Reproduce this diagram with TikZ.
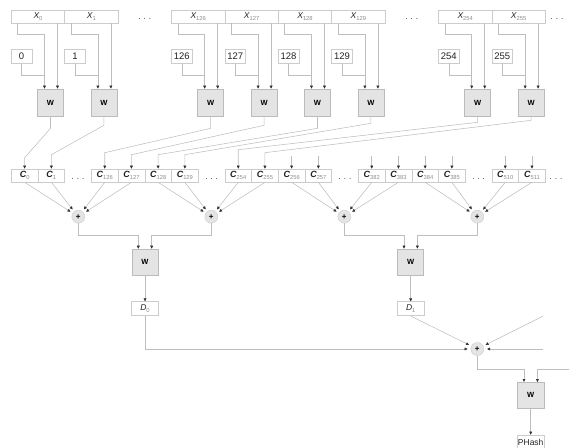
\documentclass[tikz,border=0pt]{standalone}
\usepackage{fontspec}
\setmainfont{Liberation Sans}
\usetikzlibrary{arrows.meta}
\definecolor{lncol}{HTML}{BEBEBE}
\definecolor{bdcol}{HTML}{CCCCCC}
\definecolor{wfill}{HTML}{E4E4E4}
\definecolor{wdraw}{HTML}{BBBBBB}
\definecolor{subcol}{HTML}{8C8C8C}
\definecolor{tipcol}{HTML}{303030}
\definecolor{txtcol}{HTML}{222222}
\newcommand\sublab[3]{{\fontsize{#3}{#3}\selectfont #1}\raisebox{-0.4ex}{\fontsize{5.8}{6}\selectfont\color{subcol}#2}}
\begin{document}
\begin{tikzpicture}[x=1pt,y=-1pt,
  ln/.style={draw=lncol,line width=0.55pt},
  tip/.style={-{Triangle[length=3pt,width=2.8pt,color=tipcol]}},
  xbox/.style={draw=bdcol,line width=0.6pt,minimum width=53.4pt,minimum height=13pt,inner sep=0pt,text=txtcol},
  cbox/.style={draw=bdcol,line width=0.6pt,minimum width=26.7pt,minimum height=13pt,inner sep=0pt,text=txtcol},
  kbox/.style={draw=bdcol,line width=0.6pt,minimum width=20.5pt,minimum height=14pt,inner sep=0pt,text=txtcol,font=\fontsize{9.5}{10}\selectfont},
  wbox/.style={draw=wdraw,fill=wfill,line width=0.6pt,minimum width=26pt,minimum height=27pt,inner sep=0pt,font=\fontsize{7.5}{8}\selectfont\bfseries},
  dbox/.style={draw=bdcol,line width=0.6pt,minimum width=26.7pt,minimum height=14pt,inner sep=0pt,text=txtcol},
  plus/.style={circle,fill=wfill,draw=bdcol,line width=0.4pt,minimum size=13pt,inner sep=0pt,font=\fontsize{8}{8}\selectfont\bfseries},
  dots/.style={inner sep=0pt,anchor=base,text=txtcol,font=\fontsize{8}{8}\selectfont}
]
\useasboundingbox (0,0) rectangle (569,447);

% C row
\foreach \k/\q in {0/0,1/1,126/3,127/4,128/5,129/6,254/8,255/9,256/10,257/11,382/13,383/14,384/15,385/16,510/18,511/19}{
  \node[cbox] (C\k) at (11.3+26.7*\q+13.35,175.5) {\sublab{\bfseries\itshape C}{\k}{9}};
}
% top rows
\foreach \k/\p/\a/\b in {0/0/128/158, 1/1/125/155, 126/3/128/153, 127/4/125/155, 128/5/128/155, 129/6/123/155, 254/8/122/150, 255/9/120/153}{
  \pgfmathsetmacro\xl{11.3+53.4*\p}
  \node[xbox] (X\k) at (\xl+26.7,16.5) {\sublab{\itshape X}{\k}{8.5}};
  \node[kbox] (K\k) at (\xl+10.3,56.3) {\k};
  \node[wbox] (W\k) at (\xl+39.2,102.5) {W};
  \coordinate (wl\k) at ([xshift=-6pt]W\k.north);
  \coordinate (wr\k) at ([xshift=7pt]W\k.north);
  \draw[ln,tip] ([xshift=6.7pt]X\k.south west) |- ([yshift=54pt]wl\k) -- (wl\k);
  \draw[ln] (K\k.south) |- ([yshift=13pt]wl\k);
  \draw[ln,tip] (wr\k |- X\k.south) -- (wr\k);
  \draw[ln,tip] (W\k.south) -- ++(0,\a-116) -- ([yshift=169-\b]C\k.north) -- (C\k.north);
}
% stubs
\foreach \k in {256,257,382,383,384,385,510,511}{
  \coordinate (s\k) at ([yshift=13pt]C\k.north);
  \draw[ln,tip] (s\k) -- (C\k.north);
}
% dots
\node[dots] (dx1) at (144.8,19) {. . .};
\node[dots] (dx2) at (411.8,19) {. . .};
\node[dots] (dx3) at (557,19) {. . .};
\node[dots] (dc1) at (78,179) {. . .};
\node[dots] (dc2) at (211.6,179) {. . .};
\node[dots] (dc3) at (345,179) {. . .};
\node[dots] (dc4) at (478.6,179) {. . .};
\node[dots] (dc5) at (556,179) {. . .};

% plus nodes
\node[plus] (P1) at (78.3,216.7) {+};
\node[plus] (P2) at (211.3,216.7) {+};
\node[plus] (P3) at (344.3,216.7) {+};
\node[plus] (P4) at (477.3,216.7) {+};
\foreach \c/\g in {0/P1,1/P1,126/P1,127/P1,128/P2,129/P2,254/P2,255/P2,256/P3,257/P3,382/P3,383/P3,384/P4,385/P4,510/P4,511/P4}{
  \draw[ln,tip,shorten >=2.5pt] (C\c.south) -- (\g);
}

% second level W
\node[wbox,minimum height=26pt] (WA) at (145,262) {W};
\node[wbox,minimum height=26pt] (WB) at (410.7,262) {W};
\coordinate (al) at ([xshift=-6.7pt]WA.north);
\coordinate (ar) at ([xshift=6.7pt]WA.north);
\coordinate (bl) at ([xshift=-6.7pt]WB.north);
\coordinate (br) at ([xshift=6.7pt]WB.north);
\draw[ln,tip] (P1.south) |- ([yshift=13pt]al) -- (al);
\draw[ln,tip] (P2.south) |- ([yshift=13pt]ar) -- (ar);
\draw[ln,tip] (P3.south) |- ([yshift=13pt]bl) -- (bl);
\draw[ln,tip] (P4.south) |- ([yshift=13pt]br) -- (br);

% D nodes
\node[dbox] (D0) at (145,308.7) {\sublab{\itshape D}{0}{8.5}};
\node[dbox] (D1) at (410.7,308.7) {\sublab{\itshape D}{1}{8.5}};
\draw[ln,tip] (WA.south) -- (D0.north);
\draw[ln,tip] (WB.south) -- (D1.north);

% final plus
\node[plus] (PF) at (477.3,349) {+};
\draw[ln,tip,shorten >=3pt] (D0.south) |- (PF);
\draw[ln,tip,shorten >=2.5pt] (D1.south) -- (PF);
\coordinate (r1) at (543.3,316);
\coordinate (r2) at (543.3,349);
\draw[ln,tip,shorten >=2.5pt] (r1) -- (PF);
\draw[ln,tip,shorten >=3pt] (r2) -- (PF);

% final W
\node[wbox,minimum height=26pt,minimum width=26.7pt] (WF) at (530.7,395.3) {W};
\coordinate (fl) at ([xshift=-6.7pt]WF.north);
\coordinate (fr) at ([xshift=6.7pt]WF.north);
\coordinate (r3) at (569,369.3);
\draw[ln,tip] (PF.south) |- ([yshift=13pt]fl) -- (fl);
\draw[ln,tip] (r3) -| (fr);

\node[dbox,font=\fontsize{8.5}{9}\selectfont] (PH) at (530.7,442) {PHash};
\draw[ln,tip] (WF.south) -- (PH.north);
\end{tikzpicture}
\end{document}
